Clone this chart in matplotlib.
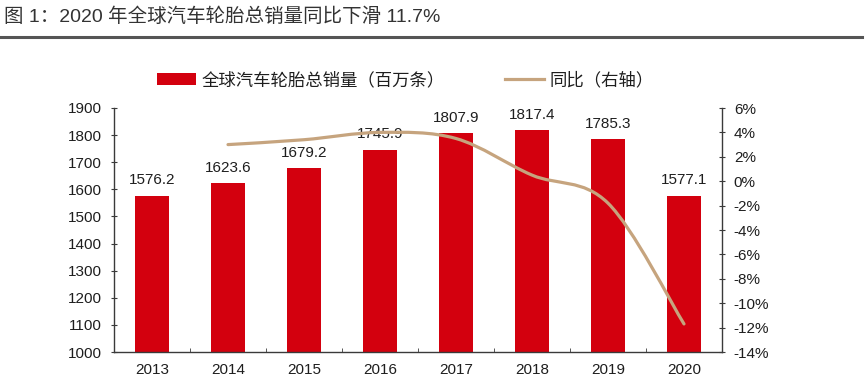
import matplotlib
matplotlib.use("Agg")
import matplotlib.pyplot as plt
from matplotlib.path import Path
from matplotlib.patches import PathPatch
from matplotlib.lines import Line2D
from matplotlib.patches import Patch
import numpy as np

plt.rcParams['font.family'] = ['Liberation Sans', 'Noto Sans CJK SC', 'DejaVu Sans']

years = ['2013', '2014', '2015', '2016', '2017', '2018', '2019', '2020']
sales = [1576.2, 1623.6, 1679.2, 1745.9, 1807.9, 1817.4, 1785.3, 1577.1]
yoy_years = ['2014', '2015', '2016', '2017', '2018', '2019', '2020']
yoy = [3.0, 3.4, 4.0, 3.5, 0.5, -1.8, -11.7]
left_ticks = [1000, 1100, 1200, 1300, 1400, 1500, 1600, 1700, 1800, 1900]
right_ticks = [-14, -12, -10, -8, -6, -4, -2, 0, 2, 4, 6]

title = '图 1：2020 年全球汽车轮胎总销量同比下滑 11.7%'
bar_label = '全球汽车轮胎总销量（百万条）'
line_label = '同比（右轴）'

bar_color = '#D3000E'
line_color = '#C6A47E'
spine_color = '#3A3A3A'
text_color = '#1E1E1E'
fs = 11

fig = plt.figure(figsize=(8.67, 3.9), dpi=100)
fig.patch.set_facecolor('white')

ax = fig.add_axes([114/867, 1-352/390, (722-114)/867, (352-108)/390])
x = np.arange(len(years))
ax.bar(x, sales, width=0.45, color=bar_color, zorder=2)
ax.set_xlim(-0.5, len(years)-0.5)
ax.set_ylim(1000, 1900)
ax.set_yticks(left_ticks)
ax.set_yticklabels([str(t) for t in left_ticks], fontsize=fs, color=text_color)
ax.set_xticks(x)
ax.set_xticklabels(years, fontsize=fs, color=text_color)
ax.tick_params(axis='x', length=0, pad=8)
ax.set_xticks(np.arange(len(years)+1)-0.5, minor=True)
ax.tick_params(axis='x', which='minor', direction='in', length=3, color=spine_color)
ax.tick_params(axis='y', direction='inout', length=5, color=spine_color, pad=6)
ax.spines['top'].set_visible(False)
ax.spines['right'].set_visible(False)
for s in ['left', 'bottom']:
    ax.spines[s].set_color(spine_color)
    ax.spines[s].set_linewidth(1.0)

for xi, v in zip(x, sales):
    ax.annotate(f'{v:.1f}', (xi, v), xytext=(0, 6), textcoords='offset points',
                ha='center', va='bottom', fontsize=fs, color=text_color)

ax2 = ax.twinx()
ax2.set_ylim(-14, 6)
ax2.set_yticks(right_ticks)
ax2.set_yticklabels([f'{t}%' for t in right_ticks], fontsize=fs, color=text_color)
ax2.tick_params(axis='y', direction='inout', length=5, color=spine_color, pad=6)
for s in ['top', 'left', 'bottom']:
    ax2.spines[s].set_visible(False)
ax2.spines['right'].set_color(spine_color)
ax2.spines['right'].set_linewidth(1.0)

# smoothed line (Catmull-Rom -> Bezier) through the YoY data points
lx = np.array([years.index(y) for y in yoy_years], dtype=float)
ly = np.array(yoy, dtype=float)
px = np.concatenate([[lx[0]], lx, [lx[-1]]])
py = np.concatenate([[ly[0]], ly, [ly[-1]]])
verts = [(lx[0], ly[0])]
codes = [Path.MOVETO]
t = 1/6
for i in range(1, len(px)-2):
    c1 = (px[i] + (px[i+1]-px[i-1])*t, py[i] + (py[i+1]-py[i-1])*t)
    c2 = (px[i+1] - (px[i+2]-px[i])*t, py[i+1] - (py[i+2]-py[i])*t)
    verts += [c1, c2, (px[i+1], py[i+1])]
    codes += [Path.CURVE4]*3
ax2.add_patch(PathPatch(Path(verts, codes), facecolor='none', edgecolor=line_color,
                        linewidth=2.3, zorder=3, capstyle='round', joinstyle='round'))

ax.set_zorder(1)
ax2.set_zorder(2)
ax.patch.set_visible(False)

# title and rule
fig.text(4/867, 1-17/390, title, fontsize=14, color='#333333', va='center', ha='left',
         family=['Liberation Sans', 'Noto Sans CJK SC'])
fig.add_artist(Line2D([0, 862/867], [1-37/390, 1-37/390], color='#555555', linewidth=2.2))

# legend
handles = [Patch(facecolor=bar_color, edgecolor='none'),
           Line2D([], [], color=line_color, linewidth=2.3)]
leg = fig.legend(handles, [bar_label, line_label], loc='center left',
                 bbox_to_anchor=(157/867, 1-80/390), borderaxespad=0, borderpad=0,
                 ncol=2, frameon=False, handlelength=2.25, handleheight=0.75,
                 columnspacing=3.5, handletextpad=0.3,
                 prop={'family': ['Noto Sans CJK SC', 'DejaVu Sans'], 'size': 12.5})
for txt in leg.get_texts():
    txt.set_color(text_color)

fig.savefig('out.png', dpi=100, facecolor='white')
